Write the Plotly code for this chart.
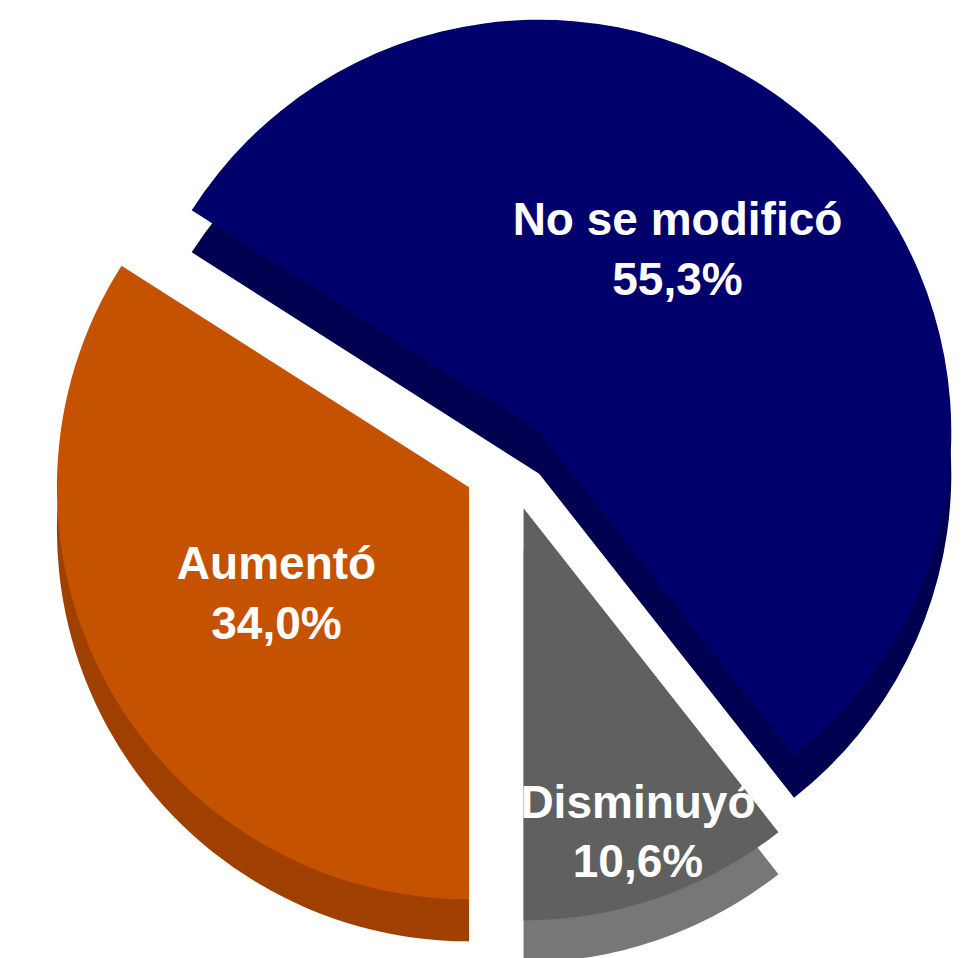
import plotly.graph_objects as go

categories = ["Aumentó", "No se modificó", "Disminuyó"]
values = [34.0, 55.3, 10.6]
top_colors = ["#c45200", "#00006c", "#606060"]
side_colors = ["#a04000", "#000050", "#777777"]
pulls = [0.11, 0.11, 0.11]

pct_text = [f"{v:.1f}".replace(".", ",") + "%" for v in values]

W, H = 963, 958
depth = 42 / H

dom_x = [0.04, 1.0]
dom_y = [0.045, 1.0]

NB = "\u00a0"
templates = [
    "<b>%{label}<br>%{text}</b>",
    "<b>%{label}<br>%{text}</b><br> ",
    " <br><b>" + NB * 2 + "%{label}<br>" + NB * 2 + "%{text}</b>",
]

fig = go.Figure()
# side (3D thickness) layer
fig.add_trace(go.Pie(
    labels=categories, values=values, sort=False, direction="clockwise",
    rotation=180, pull=pulls, textinfo="none", hoverinfo="skip",
    marker=dict(colors=side_colors, line=dict(width=0)),
    domain=dict(x=dom_x, y=[max(0.0, dom_y[0] - depth), dom_y[1] - depth]),
    showlegend=False,
))
# top face layer
fig.add_trace(go.Pie(
    labels=categories, values=values, sort=False, direction="clockwise",
    rotation=180, pull=pulls, text=pct_text,
    texttemplate=templates, textposition="inside",
    insidetextorientation="horizontal",
    textfont=dict(family="Liberation Sans, Arial, sans-serif", size=46, color="white"),
    marker=dict(colors=top_colors, line=dict(width=0)),
    domain=dict(x=dom_x, y=dom_y),
    showlegend=False,
))

fig.update_layout(
    width=W, height=H, margin=dict(l=0, r=0, t=0, b=0),
    paper_bgcolor="white", plot_bgcolor="white",
    uniformtext=dict(minsize=46, mode="show"),
)
fig.write_html("out.html")
